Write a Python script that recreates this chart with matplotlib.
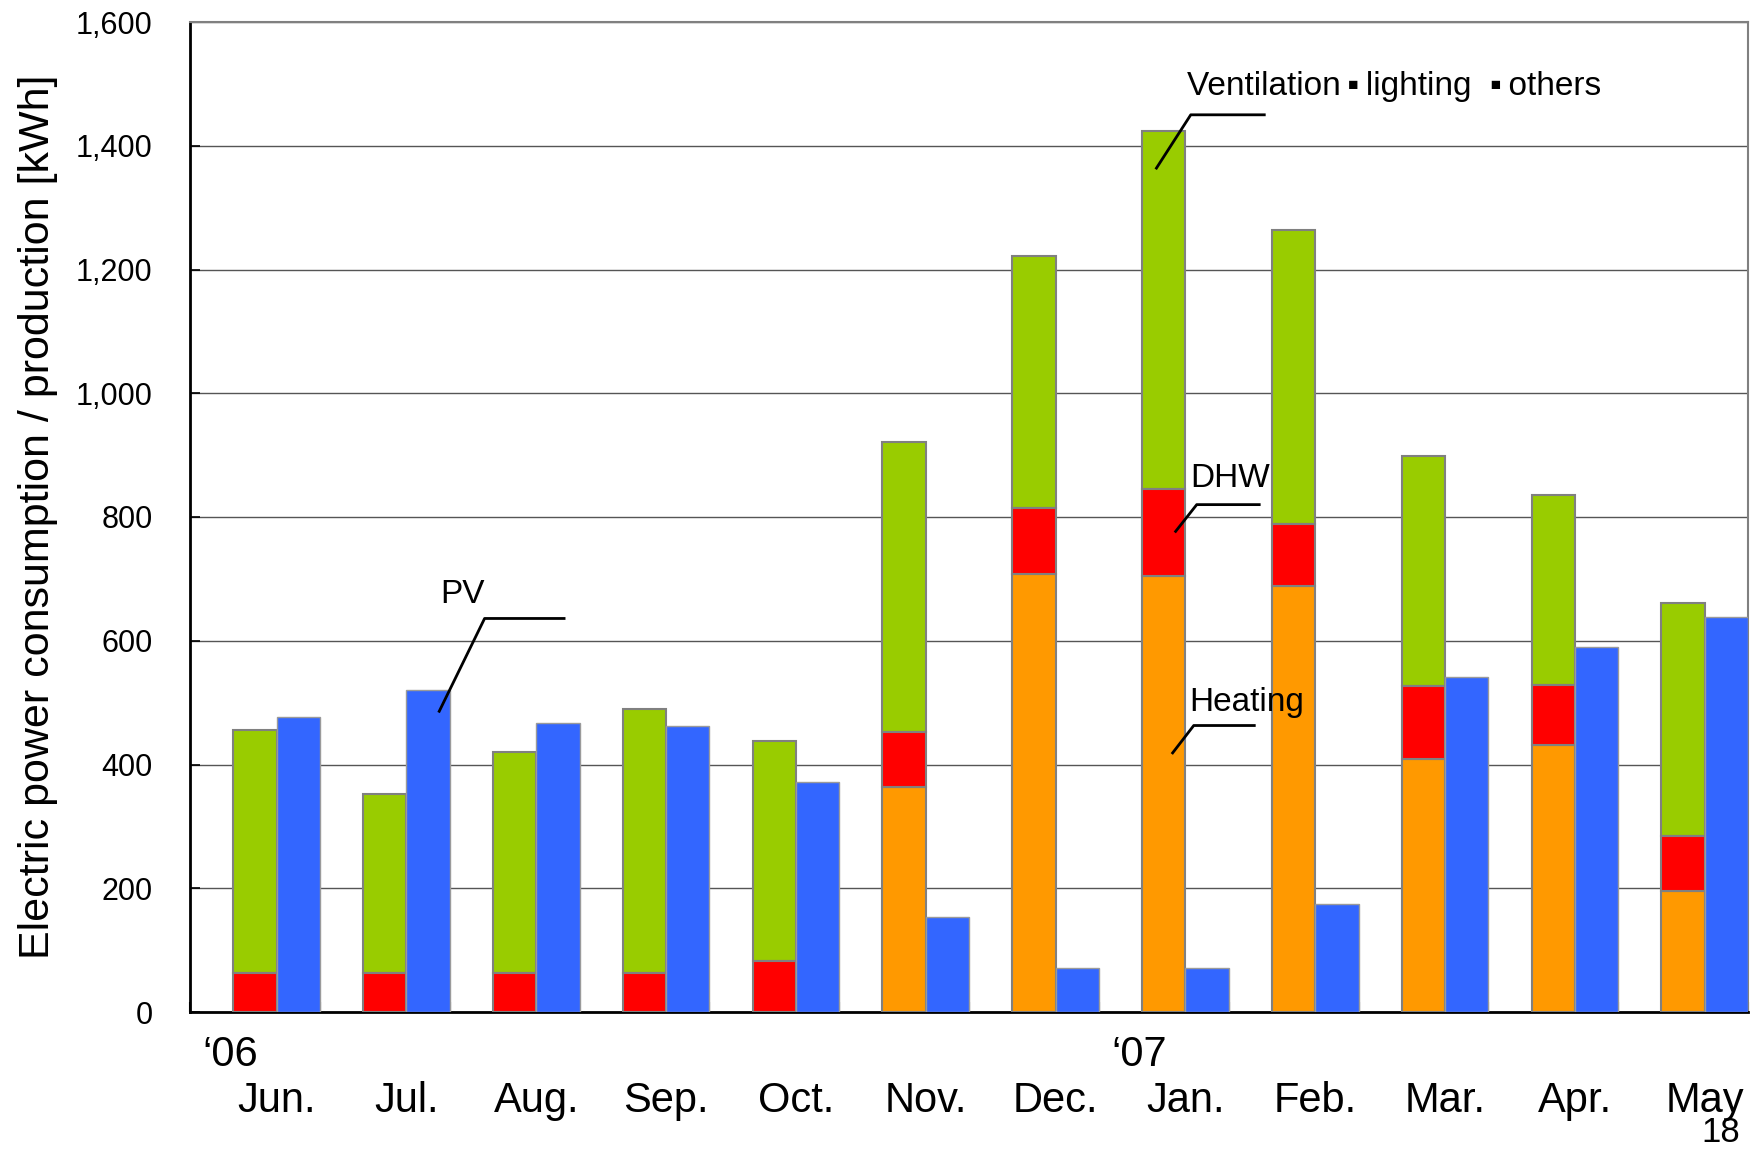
import matplotlib.pyplot as plt
import numpy as np
from matplotlib.transforms import blended_transform_factory

plt.rcParams['font.family'] = ['Liberation Sans', 'DejaVu Sans', 'Noto Sans CJK JP']

# monthly values [kWh]
months = ["Jun.", "Jul.", "Aug.", "Sep.", "Oct.", "Nov.", "Dec.", "Jan.", "Feb.", "Mar.", "Apr.", "May"]
heating = [0, 0, 0, 0, 0, 363, 708, 705, 688, 409, 432, 196]
dhw = [63, 63, 63, 63, 82, 89, 106, 141, 100, 118, 96, 89]
ventilation = [393, 289, 358, 427, 356, 469, 408, 578, 476, 372, 307, 376]
pv = [476, 521, 467, 463, 372, 153, 71, 71, 174, 541, 590, 639]
years = ["\u201806", "\u201807"]
year_idx = [0, 7]

heating = np.array(heating)
dhw = np.array(dhw)
ventilation = np.array(ventilation)
x = np.arange(len(months))
w = 1 / 3

fig = plt.figure(figsize=(17.62, 11.52), dpi=100)
ax = fig.add_axes([190 / 1762, 1 - 1012 / 1152, (1748 - 190) / 1762, (1012 - 22) / 1152])

edge = dict(edgecolor="#808080", linewidth=1.5)
ax.bar(x, heating, w, color="#FF9900", **edge, zorder=3)
ax.bar(x, dhw, w, bottom=heating, color="#FF0000", **edge, zorder=3)
ax.bar(x, ventilation, w, bottom=heating + dhw, color="#99CC00", **edge, zorder=2.9)
ax.bar(x + w, pv, w, color="#3366FF", edgecolor="#9a9a9a", linewidth=1, zorder=3)

ax.set_xlim(-0.5, len(months) - 0.5)
ax.set_ylim(0, 1600)
ax.set_yticks(np.arange(0, 1601, 200))
ax.set_yticklabels([f"{v:,}" for v in range(0, 1601, 200)], fontsize=22)
ax.yaxis.grid(True, color="#555555", linewidth=1)
ax.set_axisbelow(True)
ax.tick_params(axis="y", direction="in", length=7, width=1.2, pad=27)

# boundaries as major ticks, month names as minor ticks
ax.set_xticks(np.arange(-0.5, len(months), 1))
ax.set_xticklabels([])
ax.tick_params(axis="x", which="major", direction="in", length=7, width=1.5)
ax.set_xticks(x + w / 2, minor=True)
ax.set_xticklabels(months, minor=True, fontsize=30)
ax.tick_params(axis="x", which="minor", length=0, pad=50)

for s in ["left", "bottom"]:
    ax.spines[s].set_color("black")
    ax.spines[s].set_linewidth(2)
for s in ["top", "right"]:
    ax.spines[s].set_color("#808080")
    ax.spines[s].set_linewidth(1.5)

ax.set_ylabel("Electric power consumption / production [kWh]", fontsize=31)
ax.yaxis.set_label_coords(-0.085, 0.5)

trans = blended_transform_factory(ax.transData, ax.transAxes)
for lab, i in zip(years, year_idx):
    ax.text(i - 0.19, -0.043, lab, transform=trans, fontsize=30, ha="center", va="center")
fig.text(1721 / 1762, 1 - 1142 / 1152, "18", fontsize=25, ha="center", va="baseline")

# leader lines and labels
def leader(pts, label, tx, ty, ha="center"):
    xs, ys = zip(*pts)
    ax.plot(xs, ys, color="black", linewidth=2, zorder=5, solid_capstyle="butt")
    ax.text(tx, ty, label, fontsize=24, ha=ha, va="center", zorder=6)

leader([(1.415, 484), (1.769, 636), (2.392, 636)], "PV", 1.6, 675)
leader([(6.938, 1362), (7.208, 1450), (7.785, 1450)],
       "Ventilation\u2009\u25aa\u2009lighting  \u25aa\u2009others", 7.18, 1495, ha="left")
leader([(7.085, 775), (7.254, 820), (7.746, 820)], "DHW", 7.515, 862)
leader([(7.062, 417), (7.231, 463), (7.708, 463)], "Heating", 7.638, 500)

fig.savefig("out.png", dpi=100)
